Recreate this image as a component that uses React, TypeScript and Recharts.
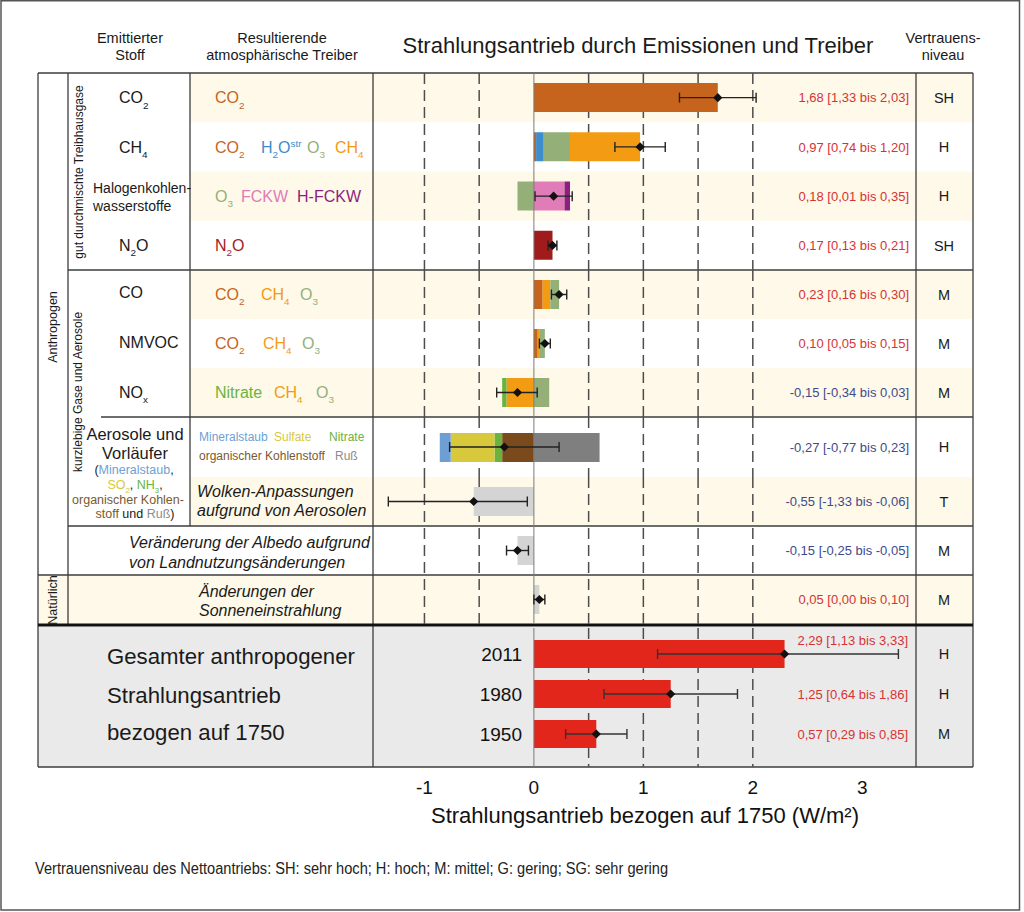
import React from "react"
import {
  ComposedChart,
  Bar,
  Scatter,
  ErrorBar,
  XAxis,
  YAxis,
  CartesianGrid,
  ReferenceLine,
} from "recharts"

// Zeilen der Abbildung, von oben nach unten
const rowKeys = ["CO2", "CH4", "Halogenkohlenwasserstoffe", "N2O", "CO", "NMVOC", "NOx", "Aerosole", "Wolken", "Albedo", "Sonne"]

// Nettoantrieb je Zeile mit Unsicherheitsbereich (W/m²)
const bestEstimate = [1.68, 0.97, 0.18, 0.17, 0.23, 0.1, -0.15, -0.27, -0.55, -0.15, 0.05]
const lowerBound = [1.33, 0.74, 0.01, 0.13, 0.16, 0.05, -0.34, -0.77, -1.33, -0.25, 0.0]
const upperBound = [2.03, 1.2, 0.35, 0.21, 0.3, 0.15, 0.03, 0.23, -0.06, -0.05, 0.1]
const confidenceLevel = ["SH", "H", "H", "SH", "M", "M", "M", "H", "T", "M", "M"]

// Beiträge der resultierenden Treiber je Zeile (W/m²)
const co2Part = [1.68, 0.02, 0, 0, 0.08, 0.035, 0, 0, 0, 0, 0]
const h2oStrPart = [0, 0.07, 0, 0, 0, 0, 0, 0, 0, 0, 0]
const o3Part = [0, 0.24, -0.15, 0, 0.08, 0.045, 0.14, 0, 0, 0, 0]
const ch4Part = [0, 0.64, 0, 0, 0.07, 0.02, -0.25, 0, 0, 0, 0]
const fckwPart = [0, 0, 0.28, 0, 0, 0, 0, 0, 0, 0, 0]
const hfckwPart = [0, 0, 0.05, 0, 0, 0, 0, 0, 0, 0, 0]
const n2oPart = [0, 0, 0, 0.17, 0, 0, 0, 0, 0, 0, 0]
const nitratePart = [0, 0, 0, 0, 0, 0, -0.04, -0.07, 0, 0, 0]
const dustPart = [0, 0, 0, 0, 0, 0, 0, -0.1, 0, 0, 0]
const sulfatePart = [0, 0, 0, 0, 0, 0, 0, -0.4, 0, 0, 0]
const organicPart = [0, 0, 0, 0, 0, 0, 0, -0.29, 0, 0, 0]
const sootPart = [0, 0, 0, 0, 0, 0, 0, 0.6, 0, 0, 0]
const otherPart = [0, 0, 0, 0, 0, 0, 0, 0, -0.55, -0.15, 0.05]

// Gesamter anthropogener Strahlungsantrieb
const totalYears = ["2011", "1980", "1950"]
const totalBest = [2.29, 1.25, 0.57]
const totalLow = [1.13, 0.64, 0.29]
const totalHigh = [3.33, 1.86, 0.85]
const totalConfidence = ["H", "H", "M"]

const axisTicks = [-1, 0, 1, 2, 3]

const FONT = "'Liberation Sans', Arial, Helvetica, sans-serif"
const CREAM = "#FEF9E8"
const RED = "#D63333"
const BLUE = "#3E4A8C"
const LINE = "#3c3c3c"

const COLORS: Record<string, string> = {
  co2: "#C6641E",
  h2o: "#3D8CCB",
  o3: "#94B078",
  ch4: "#F39B12",
  fckw: "#E07CB8",
  hfckw: "#8E1F80",
  n2o: "#A01C1C",
  nitrate: "#6BB33E",
  dust: "#6E9FD4",
  sulfate: "#D7C83C",
  organic: "#7B4A1C",
  soot: "#7F7F7F",
  other: "#D4D4D4",
}

const PLOT_LEFT = 373
const PLOT_W = 544
const X_DOMAIN = [-1.47, 3.5]
const gridTop = [-1, -0.5, 0.5, 1, 1.5, 2]
const gridBottom = [0.5, 1, 1.5, 2]

const rows = rowKeys.map((name, i) => ({
  name,
  co2: co2Part[i],
  h2o: h2oStrPart[i],
  o3: o3Part[i],
  ch4: ch4Part[i],
  fckw: fckwPart[i],
  hfckw: hfckwPart[i],
  n2o: n2oPart[i],
  nitrate: nitratePart[i],
  dust: dustPart[i],
  sulfate: sulfatePart[i],
  organic: organicPart[i],
  soot: sootPart[i],
  other: otherPart[i],
  net: bestEstimate[i],
  err: [bestEstimate[i] - lowerBound[i], upperBound[i] - bestEstimate[i]],
}))

const totals = totalYears.map((year, i) => ({
  year,
  net: totalBest[i],
  err: [totalBest[i] - totalLow[i], totalHigh[i] - totalBest[i]],
}))

// Zeilengruppen: jede Gruppe ist ein eigenes Diagramm mit eigener Stapelreihenfolge
const GROUPS = [
  { start: 0, end: 4, top: 73, height: 197, stack: ["co2", "h2o", "o3", "ch4", "fckw", "hfckw", "n2o"], topTicks: true },
  { start: 4, end: 7, top: 270, height: 147, stack: ["co2", "ch4", "o3", "nitrate"] },
  { start: 7, end: 8, top: 417, height: 60, stack: ["organic", "nitrate", "sulfate", "dust", "soot"] },
  { start: 8, end: 11, top: 477, height: 147, stack: ["other"] },
]

const rowBands = GROUPS.flatMap((g) => {
  const h = g.height / (g.end - g.start)
  return Array.from({ length: g.end - g.start }, (_, k) => ({
    top: g.top + k * h,
    height: h,
    mid: g.top + (k + 0.5) * h,
  }))
})

const fmt = (v: number) => v.toFixed(2).replace(".", ",")
const rangeLabel = (b: number, l: number, h: number) => `${fmt(b)} [${fmt(l)} bis ${fmt(h)}]`

// "_x" tiefgestellt, "^abc" hochgestellt (eine Formel je <text>)
function chem(s: string, fs = 16) {
  const segs: { t: string; m: number }[] = []
  let i = 0
  while (i < s.length) {
    if (s[i] === "_") {
      segs.push({ t: s[i + 1], m: 1 })
      i += 2
    } else if (s[i] === "^") {
      let j = i + 1
      while (j < s.length && /[a-z]/.test(s[j])) j++
      segs.push({ t: s.slice(i + 1, j), m: -1 })
      i = j
    } else {
      let j = i
      while (j < s.length && s[j] !== "_" && s[j] !== "^") j++
      segs.push({ t: s.slice(i, j), m: 0 })
      i = j
    }
  }
  let cur = 0
  return segs.map((sg, k) => {
    const target = sg.m === 1 ? fs * 0.32 : sg.m === -1 ? -fs * 0.38 : 0
    const dy = target - cur
    cur = target
    return (
      <tspan key={k} dy={dy} fontSize={sg.m ? fs * 0.62 : fs}>
        {sg.t}
      </tspan>
    )
  })
}

function Txt({ x, y, size = 16, anchor = "start", fill = "#1a1a1a", italic = false, children }: any) {
  return (
    <text
      x={x}
      y={y + size * 0.36}
      fontSize={size}
      textAnchor={anchor}
      fill={fill}
      fontStyle={italic ? "italic" : "normal"}
    >
      {children}
    </text>
  )
}

function VText({ x, y, size = 12, children }: any) {
  return (
    <text
      transform={`translate(${x},${y}) rotate(-90)`}
      fontSize={size}
      textAnchor="middle"
      dominantBaseline="central"
      fill="#1a1a1a"
    >
      {children}
    </text>
  )
}

const Diamond = (props: any) => {
  const { cx, cy } = props
  if (cx == null || cy == null) return null
  const r = 4.6
  return <path d={`M${cx},${cy - r}L${cx + r},${cy}L${cx},${cy + r}L${cx - r},${cy}Z`} fill="#111" />
}

function DriverChart({ group }: any) {
  const data = rows.slice(group.start, group.end)
  return (
    <ComposedChart
      layout="vertical"
      width={PLOT_W}
      height={group.height}
      data={data}
      margin={{ top: 0, right: 0, bottom: 0, left: 0 }}
      stackOffset="sign"
      barSize={29}
      style={{ fontFamily: FONT }}
    >
      <CartesianGrid
        horizontal={false}
        verticalValues={gridTop}
        stroke="#4d4d4d"
        strokeWidth={1.5}
        strokeDasharray="11 6"
      />
      <XAxis type="number" domain={X_DOMAIN} allowDataOverflow ticks={gridTop} hide />
      {group.topTicks && (
        <XAxis
          xAxisId="marks"
          orientation="top"
          type="number"
          domain={X_DOMAIN}
          allowDataOverflow
          ticks={[2.5, 3]}
          mirror
          tick={false}
          axisLine={false}
          tickSize={9}
          height={0}
          tickLine={{ stroke: "#444", strokeWidth: 1.3 }}
        />
      )}
      <YAxis type="category" dataKey="name" hide />
      <ReferenceLine x={0} stroke="#7a7a7a" strokeWidth={1} />
      {group.stack.map((k: string) => (
        <Bar key={k} dataKey={k} stackId="s" fill={COLORS[k]} isAnimationActive={false} />
      ))}
      <Scatter dataKey="net" shape={Diamond} isAnimationActive={false}>
        <ErrorBar dataKey="err" direction="x" width={5} stroke="#222" strokeWidth={1.4} />
      </Scatter>
    </ComposedChart>
  )
}

function TotalChart() {
  return (
    <ComposedChart
      layout="vertical"
      width={PLOT_W}
      height={202}
      data={totals}
      margin={{ top: 0, right: 0, bottom: 0, left: 0 }}
      barSize={28}
      style={{ fontFamily: FONT }}
    >
      <CartesianGrid
        horizontal={false}
        verticalValues={gridBottom}
        stroke="#4d4d4d"
        strokeWidth={1.5}
        strokeDasharray="11 6"
      />
      <XAxis
        type="number"
        domain={X_DOMAIN}
        allowDataOverflow
        ticks={axisTicks}
        interval={0}
        tickLine={false}
        axisLine={false}
        tickSize={0}
        tickMargin={14}
        height={63}
        tick={{ fontSize: 19, fill: "#111", fontFamily: FONT }}
        label={{
          value: "Strahlungsantrieb bezogen auf 1750 (W/m²)",
          position: "insideBottom",
          offset: 7,
          fontSize: 22,
          fill: "#111",
          fontFamily: FONT,
        }}
      />
      <XAxis
        xAxisId="marks"
        type="number"
        domain={X_DOMAIN}
        allowDataOverflow
        ticks={[-1, -0.5, 2.5, 3]}
        mirror
        tick={false}
        axisLine={false}
        tickSize={12}
        height={0}
        tickLine={{ stroke: "#444", strokeWidth: 1.3 }}
      />
      <YAxis type="category" dataKey="year" hide padding={{ top: 6, bottom: 13 }} />
      <ReferenceLine x={0} stroke="#7a7a7a" strokeWidth={1} />
      <Bar dataKey="net" fill="#E2261C" isAnimationActive={false} />
      <Scatter dataKey="net" shape={Diamond} isAnimationActive={false}>
        <ErrorBar dataKey="err" direction="x" width={5} stroke="#333" strokeWidth={1.4} />
      </Scatter>
    </ComposedChart>
  )
}

export default function App() {
  const mids = rowBands.map((b) => b.mid)
  const totalMids = totalYears.map((_, i) => 634 + 40 * (i + 0.5))
  const sub = 12.5 * 0.32
  return (
    <div
      style={{
        position: "absolute",
        left: 0,
        top: 0,
        width: 1024,
        height: 912,
        background: "#fff",
        fontFamily: FONT,
        overflow: "hidden",
      }}
    >
      <svg width={1024} height={912} style={{ position: "absolute", left: 0, top: 0 }} fontFamily={FONT}>
        {/* Hintergründe */}
        {rowBands.map((b, i) =>
          i % 2 === 0 ? (
            <rect
              key={i}
              x={i === 10 ? 38 : 190}
              y={b.top}
              width={i === 10 ? 935 : 783}
              height={b.height}
              fill={CREAM}
            />
          ) : null
        )}
        <rect x={38} y={626.5} width={935} height={140.5} fill="#EAEAEA" />

        {/* Tabellenlinien */}
        <g stroke={LINE} strokeWidth={1.3}>
          <line x1={38} y1={73} x2={973} y2={73} />
          <line x1={68} y1={270} x2={973} y2={270} />
          <line x1={101} y1={417} x2={973} y2={417} />
          <line x1={68} y1={526} x2={973} y2={526} />
          <line x1={38} y1={575} x2={973} y2={575} />
          <line x1={38} y1={767} x2={973} y2={767} />
          <line x1={38} y1={73} x2={38} y2={767} />
          <line x1={68} y1={73} x2={68} y2={624} />
          <line x1={190} y1={73} x2={190} y2={526} />
          <line x1={373} y1={73} x2={373} y2={767} />
          <line x1={916} y1={73} x2={916} y2={767} />
          <line x1={973} y1={73} x2={973} y2={767} />
        </g>
        <line x1={38} y1={625} x2={973} y2={625} stroke="#111" strokeWidth={3} />
        <rect x={1} y={0.75} width={1018.5} height={909.25} fill="none" stroke="#555" strokeWidth={1.5} />

        {/* Kopfzeile */}
        <Txt x={130} y={38} size={14.5} anchor="middle">Emittierter</Txt>
        <Txt x={130} y={55} size={14.5} anchor="middle">Stoff</Txt>
        <Txt x={282} y={38} size={14.5} anchor="middle">Resultierende</Txt>
        <Txt x={282} y={55} size={14.5} anchor="middle">atmosphärische Treiber</Txt>
        <Txt x={638} y={45} size={22} anchor="middle">Strahlungsantrieb durch Emissionen und Treiber</Txt>
        <Txt x={943} y={38} size={14.5} anchor="middle">Vertrauens-</Txt>
        <Txt x={943} y={55} size={14.5} anchor="middle">niveau</Txt>

        {/* Gruppenbeschriftungen */}
        <VText x={53} y={327} size={12.5}>Anthropogen</VText>
        <VText x={53} y={600} size={12.5}>Natürlich</VText>
        <VText x={79} y={172}>gut durchmischte Treibhausgase</VText>
        <VText x={78} y={392}>kurzlebige Gase und Aerosole</VText>

        {/* Emittierter Stoff */}
        <Txt x={119} y={mids[0]}>{chem("CO_2")}</Txt>
        <Txt x={119} y={mids[1]}>{chem("CH_4")}</Txt>
        <Txt x={93} y={188} size={14}>Halogenkohlen-</Txt>
        <Txt x={93} y={206} size={14}>wasserstoffe</Txt>
        <Txt x={119} y={mids[3]}>{chem("N_2O")}</Txt>
        <Txt x={119} y={mids[4] - 2}>CO</Txt>
        <Txt x={119} y={mids[5] - 1}>NMVOC</Txt>
        <Txt x={119} y={mids[6]}>{chem("NO_x")}</Txt>
        <Txt x={135} y={434} size={16.5} anchor="middle">Aerosole und</Txt>
        <Txt x={135} y={453} size={16.5} anchor="middle">Vorläufer</Txt>
        <Txt x={134} y={469} size={12.5} anchor="middle">
          (<tspan fill={COLORS.dust}>Mineralstaub</tspan>,
        </Txt>
        <Txt x={135} y={484} size={12.5} anchor="middle">
          <tspan fill={COLORS.sulfate}>SO</tspan>
          <tspan fill={COLORS.sulfate} dy={sub} fontSize={7.8}>2</tspan>
          <tspan dy={-sub}>{", "}</tspan>
          <tspan fill={COLORS.nitrate}>NH</tspan>
          <tspan fill={COLORS.nitrate} dy={sub} fontSize={7.8}>3</tspan>
          <tspan dy={-sub}>,</tspan>
        </Txt>
        <Txt x={128} y={499} size={12.5} anchor="middle" fill="#7A5A2E">organischer Kohlen-</Txt>
        <Txt x={135} y={513} size={12.5} anchor="middle">
          <tspan fill="#7A5A2E">stoff</tspan> und <tspan fill="#8C8C8C">Ruß</tspan>)
        </Txt>

        {/* Resultierende atmosphärische Treiber */}
        <Txt x={215} y={mids[0]} fill={COLORS.co2}>{chem("CO_2")}</Txt>
        <Txt x={215} y={mids[1]} fill={COLORS.co2}>{chem("CO_2")}</Txt>
        <Txt x={261} y={mids[1]} fill={COLORS.h2o}>{chem("H_2O^str")}</Txt>
        <Txt x={307} y={mids[1]} fill={COLORS.o3}>{chem("O_3")}</Txt>
        <Txt x={335} y={mids[1]} fill={COLORS.ch4}>{chem("CH_4")}</Txt>
        <Txt x={215} y={mids[2]} fill={COLORS.o3}>{chem("O_3")}</Txt>
        <Txt x={241} y={mids[2]} fill={COLORS.fckw}>FCKW</Txt>
        <Txt x={297} y={mids[2]} fill={COLORS.hfckw}>H-FCKW</Txt>
        <Txt x={215} y={mids[3]} fill={COLORS.n2o}>{chem("N_2O")}</Txt>
        <Txt x={215} y={mids[4]} fill={COLORS.co2}>{chem("CO_2")}</Txt>
        <Txt x={261} y={mids[4]} fill={COLORS.ch4}>{chem("CH_4")}</Txt>
        <Txt x={300} y={mids[4]} fill={COLORS.o3}>{chem("O_3")}</Txt>
        <Txt x={215} y={mids[5]} fill={COLORS.co2}>{chem("CO_2")}</Txt>
        <Txt x={263} y={mids[5]} fill={COLORS.ch4}>{chem("CH_4")}</Txt>
        <Txt x={302} y={mids[5]} fill={COLORS.o3}>{chem("O_3")}</Txt>
        <Txt x={215} y={mids[6]} fill={COLORS.nitrate}>Nitrate</Txt>
        <Txt x={274} y={mids[6]} fill={COLORS.ch4}>{chem("CH_4")}</Txt>
        <Txt x={316} y={mids[6]} fill={COLORS.o3}>{chem("O_3")}</Txt>
        <Txt x={199} y={437} size={12} fill={COLORS.dust}>Mineralstaub</Txt>
        <Txt x={274} y={437} size={12} fill={COLORS.sulfate}>Sulfate</Txt>
        <Txt x={329} y={437} size={12} fill={COLORS.nitrate}>Nitrate</Txt>
        <Txt x={199} y={456} size={12} fill="#7A5A2E">organischer Kohlenstoff</Txt>
        <Txt x={335} y={456} size={12} fill="#8C8C8C">Ruß</Txt>
        <Txt x={197} y={491} italic>Wolken-Anpassungen</Txt>
        <Txt x={197} y={510} italic>aufgrund von Aerosolen</Txt>
        <Txt x={129} y={542} italic>Veränderung der Albedo aufgrund</Txt>
        <Txt x={129} y={562} italic>von Landnutzungsänderungen</Txt>
        <Txt x={199} y={591} italic>Änderungen der</Txt>
        <Txt x={199} y={610} italic>Sonneneinstrahlung</Txt>

        {/* Zahlenwerte und Vertrauensniveau */}
        {rowKeys.map((k, i) => (
          <Txt key={k} x={909} y={mids[i]} size={13} anchor="end" fill={bestEstimate[i] >= 0 ? RED : BLUE}>
            {rangeLabel(bestEstimate[i], lowerBound[i], upperBound[i])}
          </Txt>
        ))}
        {rowKeys.map((k, i) => (
          <Txt key={"c" + k} x={944} y={mids[i]} size={14.5} anchor="middle">
            {confidenceLevel[i]}
          </Txt>
        ))}

        {/* Gesamtantrieb */}
        <Txt x={107} y={656} size={22.2}>Gesamter anthropogener</Txt>
        <Txt x={107} y={695} size={22.2}>Strahlungsantrieb</Txt>
        <Txt x={107} y={732} size={22.2}>bezogen auf 1750</Txt>
        {totalYears.map((y, i) => (
          <text
            key={"y" + y}
            x={522}
            y={totalMids[i] + 7}
            fontSize={19}
            fontFamily="Liberation Sans"
            textAnchor="end"
            fill="#111"
          >
            {y}
          </text>
        ))}
        {totalYears.map((y, i) => (
          <Txt key={y} x={908} y={totalMids[i] - (i === 0 ? 14 : 0)} size={13} anchor="end" fill={RED}>
            {rangeLabel(totalBest[i], totalLow[i], totalHigh[i])}
          </Txt>
        ))}
        {totalYears.map((y, i) => (
          <Txt key={"c" + y} x={944} y={totalMids[i]} size={14.5} anchor="middle">
            {totalConfidence[i]}
          </Txt>
        ))}

        <text x={35} y={868 + 16 * 0.36} fontSize={16} textLength={633} lengthAdjust="spacingAndGlyphs" fill="#222">
          Vertrauensniveau des Nettoantriebs: SH: sehr hoch; H: hoch; M: mittel; G: gering; SG: sehr gering
        </text>
      </svg>

      {GROUPS.map((g, i) => (
        <div key={i} style={{ position: "absolute", left: PLOT_LEFT, top: g.top }}>
          <DriverChart group={g} />
        </div>
      ))}
      <div style={{ position: "absolute", left: PLOT_LEFT, top: 628 }}>
        <TotalChart />
      </div>
    </div>
  )
}
